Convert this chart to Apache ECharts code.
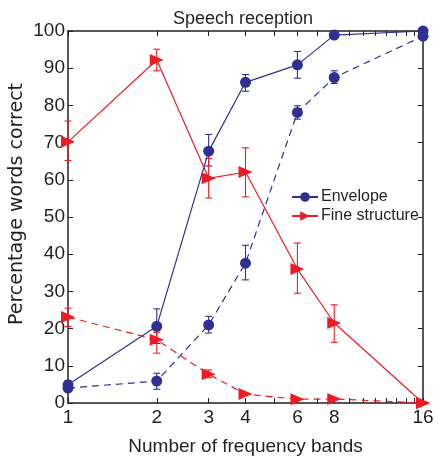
<!DOCTYPE html>
<html>
<head>
<meta charset="utf-8">
<script src="https://cdn.jsdelivr.net/npm/echarts@6/dist/echarts.min.js"></script>
<style>
  html, body { margin: 0; padding: 0; background: #fff; }
  #chart { width: 438px; height: 456px; }
</style>
</head>
<body>
<div id="chart"></div>
<script>
// number of frequency bands
var bands = [1, 2, 3, 4, 6, 8, 16];
var xLabels = [1, 2, 3, 4, 6, 8, 16];
var xTicks = [1, 2, 3, 4, 5, 6, 7, 8, 9, 10, 11, 12, 13, 14, 15, 16];

// percentage words correct
var envelopeSolid = [4.9, 20.6, 67.7, 86.2, 90.9, 98.9, 100];
var envelopeDashed = [4.0, 5.9, 21.0, 37.6, 78.1, 87.5, 98.6];
var fineSolid = [70.2, 92.2, 60.4, 62.1, 36.0, 21.5, 0];
var fineDashed = [23.1, 17.0, 7.7, 2.4, 1.0, 1.1, 0];

// error bars: [bands, low, high]
var envelopeSolidErr = [[1, 3.8, 6.0], [2, 16.0, 25.3], [3, 63.7, 72.2], [4, 83.8, 88.3], [6, 87.3, 94.5]];
var envelopeDashedErr = [[2, 3.7, 8.0], [3, 18.8, 23.3], [4, 33.1, 42.4], [6, 76.3, 79.9], [8, 85.9, 89.3]];
var fineSolidErr = [[1, 65.2, 75.8], [2, 89.3, 95.1], [3, 55.1, 65.7], [4, 55.4, 68.6], [6, 29.5, 43.0], [8, 16.3, 26.4]];
var fineDashedErr = [[1, 20.6, 25.5], [2, 13.4, 19.0], [3, 6.8, 8.9]];

var BLUE = "#2e3192";
var RED = "#ed1c24";
var INK = "#231f20";
var FONT = "Liberation Sans";

function pairs(vals) {
   return bands.map(function (b, i) { return [b, vals[i]]; });
}

function errorSeries(data, color) {
   return {
      type: "custom",
      silent: true,
      z: 1,
      data: data,
      renderItem: function (params, api) {
         var lo = api.coord([api.value(0), api.value(1)]);
         var hi = api.coord([api.value(0), api.value(2)]);
         var w = 3.5;
         var st = { stroke: color, lineWidth: 1.1 };
         return {
            type: "group",
            children: [
               { type: "line", shape: { x1: lo[0], y1: lo[1], x2: hi[0], y2: hi[1] }, style: st },
               { type: "line", shape: { x1: lo[0] - w, y1: lo[1], x2: lo[0] + w, y2: lo[1] }, style: st },
               { type: "line", shape: { x1: hi[0] - w, y1: hi[1], x2: hi[0] + w, y2: hi[1] }, style: st },
            ],
         };
      },
   };
}

function lineSeries(name, vals, color, dashed, isFine) {
   return {
      name: name,
      type: "line",
      data: pairs(vals),
      z: 2,
      symbol: isFine ? "triangle" : "circle",
      symbolSize: isFine ? [12, 14] : 11,
      symbolRotate: isFine ? -90 : 0,
      showAllSymbol: true,
      clip: false,
      itemStyle: { color: color },
      lineStyle: { color: color, width: 1.2, type: dashed ? [7, 5] : "solid" },
      emphasis: { disabled: true },
   };
}

var xAxisBase = {
   type: "log",
   logBase: 2,
   min: 1,
   max: 16,
   axisLine: { onZero: false, lineStyle: { color: INK, width: 1.5 } },
   axisTick: { inside: true, length: 5, customValues: xTicks, lineStyle: { color: INK } },
   splitLine: { show: false },
   minorTick: { show: false },
   minorSplitLine: { show: false },
};

var yAxisBase = {
   type: "value",
   min: 0,
   max: 100,
   interval: 10,
   axisLine: { show: true, onZero: false, lineStyle: { color: INK, width: 1.5 } },
   axisTick: { show: true, inside: true, length: 5, lineStyle: { color: INK } },
   splitLine: { show: false },
};

var chart = echarts.init(document.getElementById("chart"));
chart.setOption({
   animation: false,
   title: {
      text: "Speech reception",
      left: 238,
      top: 5,
      textAlign: "center",
      textStyle: { fontFamily: FONT, fontSize: 18, fontWeight: "normal", color: INK },
   },
   grid: { left: 68, right: 15, top: 31, bottom: 53, outerBoundsMode: "none", containLabel: false },
   legend: {
      data: ["Envelope", "Fine structure"],
      orient: "vertical",
      left: 286,
      top: 184,
      itemWidth: 26,
      itemHeight: 12,
      itemGap: 3,
      textStyle: { fontFamily: FONT, fontSize: 16, color: INK, padding: [0, 0, 0, -2] },
   },
   xAxis: [
      Object.assign({}, xAxisBase, {
         position: "bottom",
         name: "Number of frequency bands",
         nameLocation: "middle",
         nameGap: 34,
         nameMoveOverlap: false,
         nameTextStyle: { fontFamily: FONT, fontSize: 19, color: INK },
         axisLabel: { customValues: xLabels, fontFamily: FONT, fontSize: 19, color: INK, margin: 5 },
      }),
      Object.assign({}, xAxisBase, { position: "top", axisLabel: { show: false } }),
   ],
   yAxis: [
      Object.assign({}, yAxisBase, {
         position: "left",
         name: "Percentage words correct",
         nameLocation: "middle",
         nameGap: 41,
         nameMoveOverlap: false,
         nameTextStyle: { fontFamily: "DejaVu Sans", fontSize: 19, color: INK, padding: [0, 0, 0, 26] },
         axisLabel: { fontFamily: FONT, fontSize: 19, color: INK, margin: 3 },
      }),
      Object.assign({}, yAxisBase, { position: "right", axisLabel: { show: false } }),
   ],
   series: [
      errorSeries(envelopeSolidErr, BLUE),
      errorSeries(envelopeDashedErr, BLUE),
      errorSeries(fineSolidErr, RED),
      errorSeries(fineDashedErr, RED),
      lineSeries("Envelope dashed", envelopeDashed, BLUE, true, false),
      lineSeries("Fine structure dashed", fineDashed, RED, true, true),
      lineSeries("Envelope", envelopeSolid, BLUE, false, false),
      lineSeries("Fine structure", fineSolid, RED, false, true),
   ],
});
</script>
</body>
</html>
